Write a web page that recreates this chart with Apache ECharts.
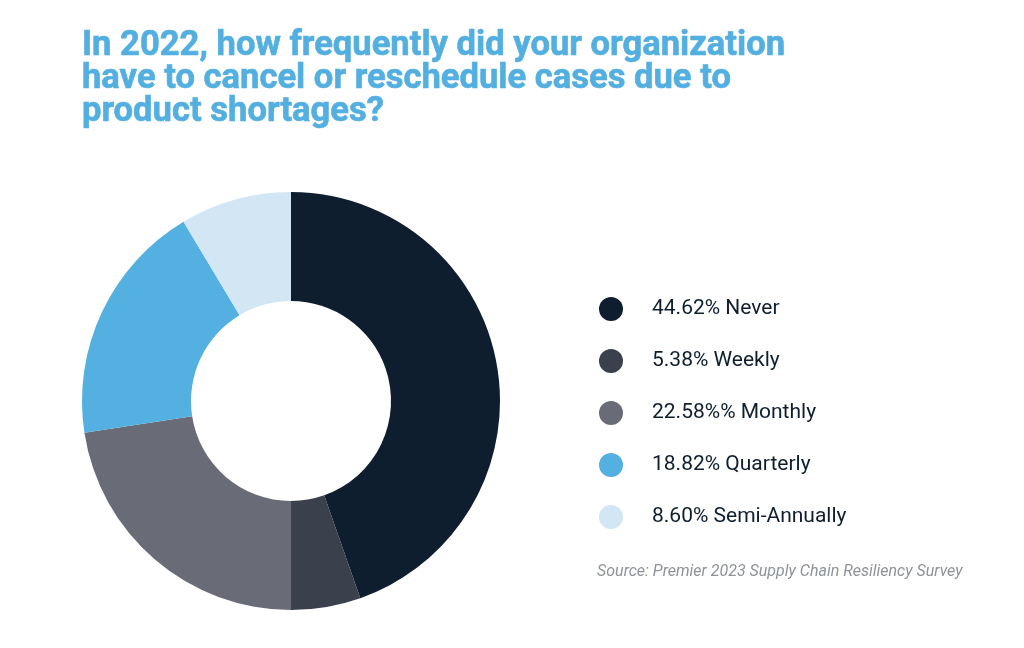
<!DOCTYPE html>
<html>
<head>
<meta charset="utf-8">
<script src="https://cdn.jsdelivr.net/npm/echarts@6/dist/echarts.min.js"></script>
<style>html,body{margin:0;padding:0;background:#fff;}#chart{width:1024px;height:648px;}</style>
</head>
<body>
<div id="chart"></div>
<script>
const categories = ["Never", "Weekly", "Monthly", "Quarterly", "Semi-Annually"];
const values = [44.62, 5.38, 22.58, 18.82, 8.60];
const legendLabels = ["44.62% Never", "5.38% Weekly", "22.58%% Monthly", "18.82% Quarterly", "8.60% Semi-Annually"];
const colors = ["#0F1E2F", "#3A414D", "#696B76", "#53B0E0", "#D2E6F4"];
const titleText = "In 2022, how frequently did your organization\nhave to cancel or reschedule cases due to\nproduct shortages?";
const sourceText = "Source: Premier 2023 Supply Chain Resiliency Survey";

const chart = echarts.init(document.getElementById('chart'));
chart.setOption({
  animation: false,
  backgroundColor: '#ffffff',
  color: colors,
  title: [{
    text: titleText,
    left: 77,
    top: 25,
    textStyle: {
      fontFamily: 'Roboto',
      fontWeight: 'bold',
      fontSize: 34.6,
      lineHeight: 33,
      color: '#53AFE0',
      textBorderColor: '#53AFE0',
      textBorderWidth: 0.6
    }
  }, {
    text: sourceText,
    left: 592,
    top: 559,
    textStyle: {
      fontFamily: 'Roboto',
      fontStyle: 'italic',
      fontWeight: 'normal',
      fontSize: 16,
      color: '#8E9399'
    }
  }],
  legend: {
    orient: 'vertical',
    left: 594,
    top: 292,
    icon: 'circle',
    itemWidth: 24,
    itemHeight: 24,
    itemGap: 28,
    selectedMode: false,
    data: legendLabels,
    textStyle: {
      fontFamily: 'Roboto',
      fontSize: 21,
      color: '#0F1E2F',
      padding: [0, 0, 0, 24]
    }
  },
  series: [{
    type: 'pie',
    center: [291, 401],
    radius: [100, 209],
    startAngle: 90,
    clockwise: true,
    label: { show: false },
    labelLine: { show: false },
    emphasis: { disabled: true },
    itemStyle: { borderWidth: 0 },
    data: values.map((v, i) => ({ name: legendLabels[i], value: v }))
  }]
});
</script>
</body>
</html>
